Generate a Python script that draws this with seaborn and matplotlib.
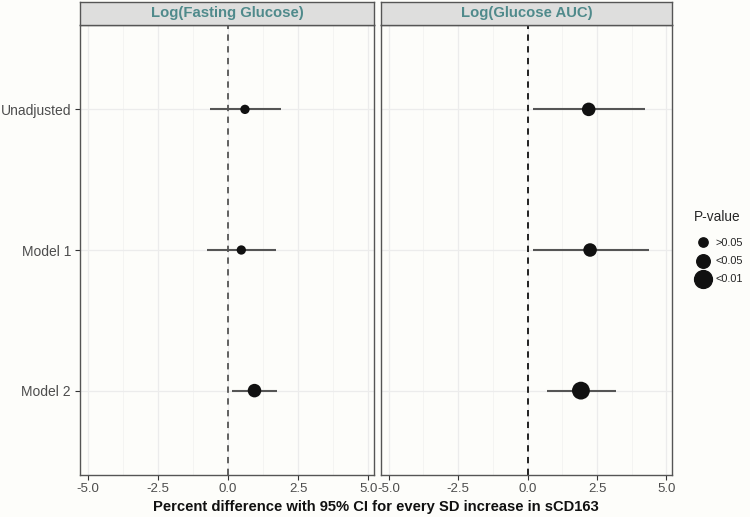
import matplotlib
matplotlib.use("Agg")
import matplotlib.pyplot as plt
from matplotlib.lines import Line2D
from matplotlib.ticker import MultipleLocator
import seaborn as sns
import pandas as pd
import numpy as np

sns.set_theme(style="white")
plt.rcParams['font.family'] = ['Liberation Sans', 'DejaVu Sans']

models = ["Unadjusted", "Model 1", "Model 2"]
panels = ["Log(Fasting Glucose)", "Log(Glucose AUC)"]

fg_est = [0.60, 0.47, 0.94]
fg_lo = [-0.65, -0.75, 0.14]
fg_hi = [1.88, 1.71, 1.76]
fg_p = [">0.05", ">0.05", "<0.05"]

auc_est = [2.20, 2.25, 1.92]
auc_lo = [0.19, 0.18, 0.70]
auc_hi = [4.24, 4.36, 3.17]
auc_p = ["<0.05", "<0.05", "<0.01"]

p_levels = [">0.05", "<0.05", "<0.01"]
p_sizes = {">0.05": 45, "<0.05": 95, "<0.01": 165}

xticks = [-5.0, -2.5, 0.0, 2.5, 5.0]
xlabel = "Percent difference with 95% CI for every SD increase in sCD163"

bg = "#fdfdfa"
frames = []
for panel, est, lo, hi, p in [(panels[0], fg_est, fg_lo, fg_hi, fg_p),
                              (panels[1], auc_est, auc_lo, auc_hi, auc_p)]:
    frames.append(pd.DataFrame({"panel": panel, "model": models, "est": est,
                                "lo": lo, "hi": hi, "p": p}))
df = pd.concat(frames, ignore_index=True)
df["ypos"] = df["model"].map({m: i for i, m in enumerate(models)})

W, H = 750, 517
fig = plt.figure(figsize=(7.5, 5.17), dpi=100, facecolor=bg)

panel_boxes = [(80, 374), (381, 672)]
top, bottom = 25, 475
strip_top = 2
vline_colors = ["#555555", "#111111"]

for i, panel in enumerate(panels):
    x0, x1 = panel_boxes[i]
    ax = fig.add_axes([x0 / W, 1 - bottom / H, (x1 - x0) / W, (bottom - top) / H])
    sax = fig.add_axes([x0 / W, 1 - top / H, (x1 - x0) / W, (top - strip_top) / H])
    ax.set_facecolor(bg)
    sub = df[df["panel"] == panel]
    ax.set_xlim(-5.28, 5.2)
    ax.set_ylim(2.6, -0.6)
    ax.xaxis.set_major_locator(MultipleLocator(2.5))
    ax.xaxis.set_minor_locator(MultipleLocator(1.25))
    ax.grid(True, which="major", color="#ececec", lw=0.9)
    ax.grid(True, which="minor", axis="x", color="#f3f3f1", lw=0.6)
    ax.set_axisbelow(True)
    ax.axvline(0, color=vline_colors[i], lw=1.3, ls=(0, (3.5, 3)), zorder=1)
    ax.hlines(sub["ypos"], sub["lo"], sub["hi"], color="#555555", lw=1.5, zorder=2)
    sns.scatterplot(data=sub, x="est", y="ypos", size="p", sizes=p_sizes,
                    size_order=p_levels, color="#111111", edgecolor="none",
                    legend=False, ax=ax, zorder=3)
    ax.set_xticks(xticks)
    ax.set_xticklabels([f"{t:.1f}" for t in xticks])
    ax.set_xlabel("")
    ax.set_ylabel("")
    ax.set_yticks(range(len(models)))
    if i == 0:
        ax.set_yticklabels(models, fontsize=10, color="#4d4d4d")
    else:
        ax.set_yticklabels([])
    ax.tick_params(axis="both", which="major", length=3.5, width=0.8,
                   color="#333333", left=(i == 0), bottom=True, pad=3)
    ax.tick_params(axis="x", labelsize=9.5, labelcolor="#4d4d4d", pad=2)
    ax.tick_params(axis="y", left=(i == 0), length=3.5)
    for s in ax.spines.values():
        s.set_color("#555555")
        s.set_linewidth(1.0)
    # strip
    sax.set_facecolor("#dededd")
    sax.set_xticks([])
    sax.set_yticks([])
    for s in sax.spines.values():
        s.set_color("#555555")
        s.set_linewidth(1.0)
    sax.text(0.5, 0.5, panel, ha="center", va="center", fontsize=10.7,
             fontweight="bold", color="#4f8a8b", transform=sax.transAxes)

fig.text((80 + 672) / 2 / W, 1 - 507 / H, xlabel, ha="center", va="center",
         fontsize=10.6, fontweight="bold", color="#111111")

handles = [Line2D([], [], marker="o", ls="none", color="#111111",
                  markersize=np.sqrt(p_sizes[l])) for l in p_levels]
leg = fig.legend(handles, p_levels, title="P-value", loc="upper left",
                 bbox_to_anchor=(690 / W, 1 - 206 / H), frameon=False,
                 fontsize=7.8, title_fontsize=9.8, handletextpad=0.4,
                 labelspacing=0.75, borderaxespad=0, handlelength=1.6)
leg._legend_box.align = "left"
leg._legend_box.sep = 10
for t in leg.get_texts():
    t.set_color("#222222")

fig.savefig("out.png", dpi=100, facecolor=bg)
